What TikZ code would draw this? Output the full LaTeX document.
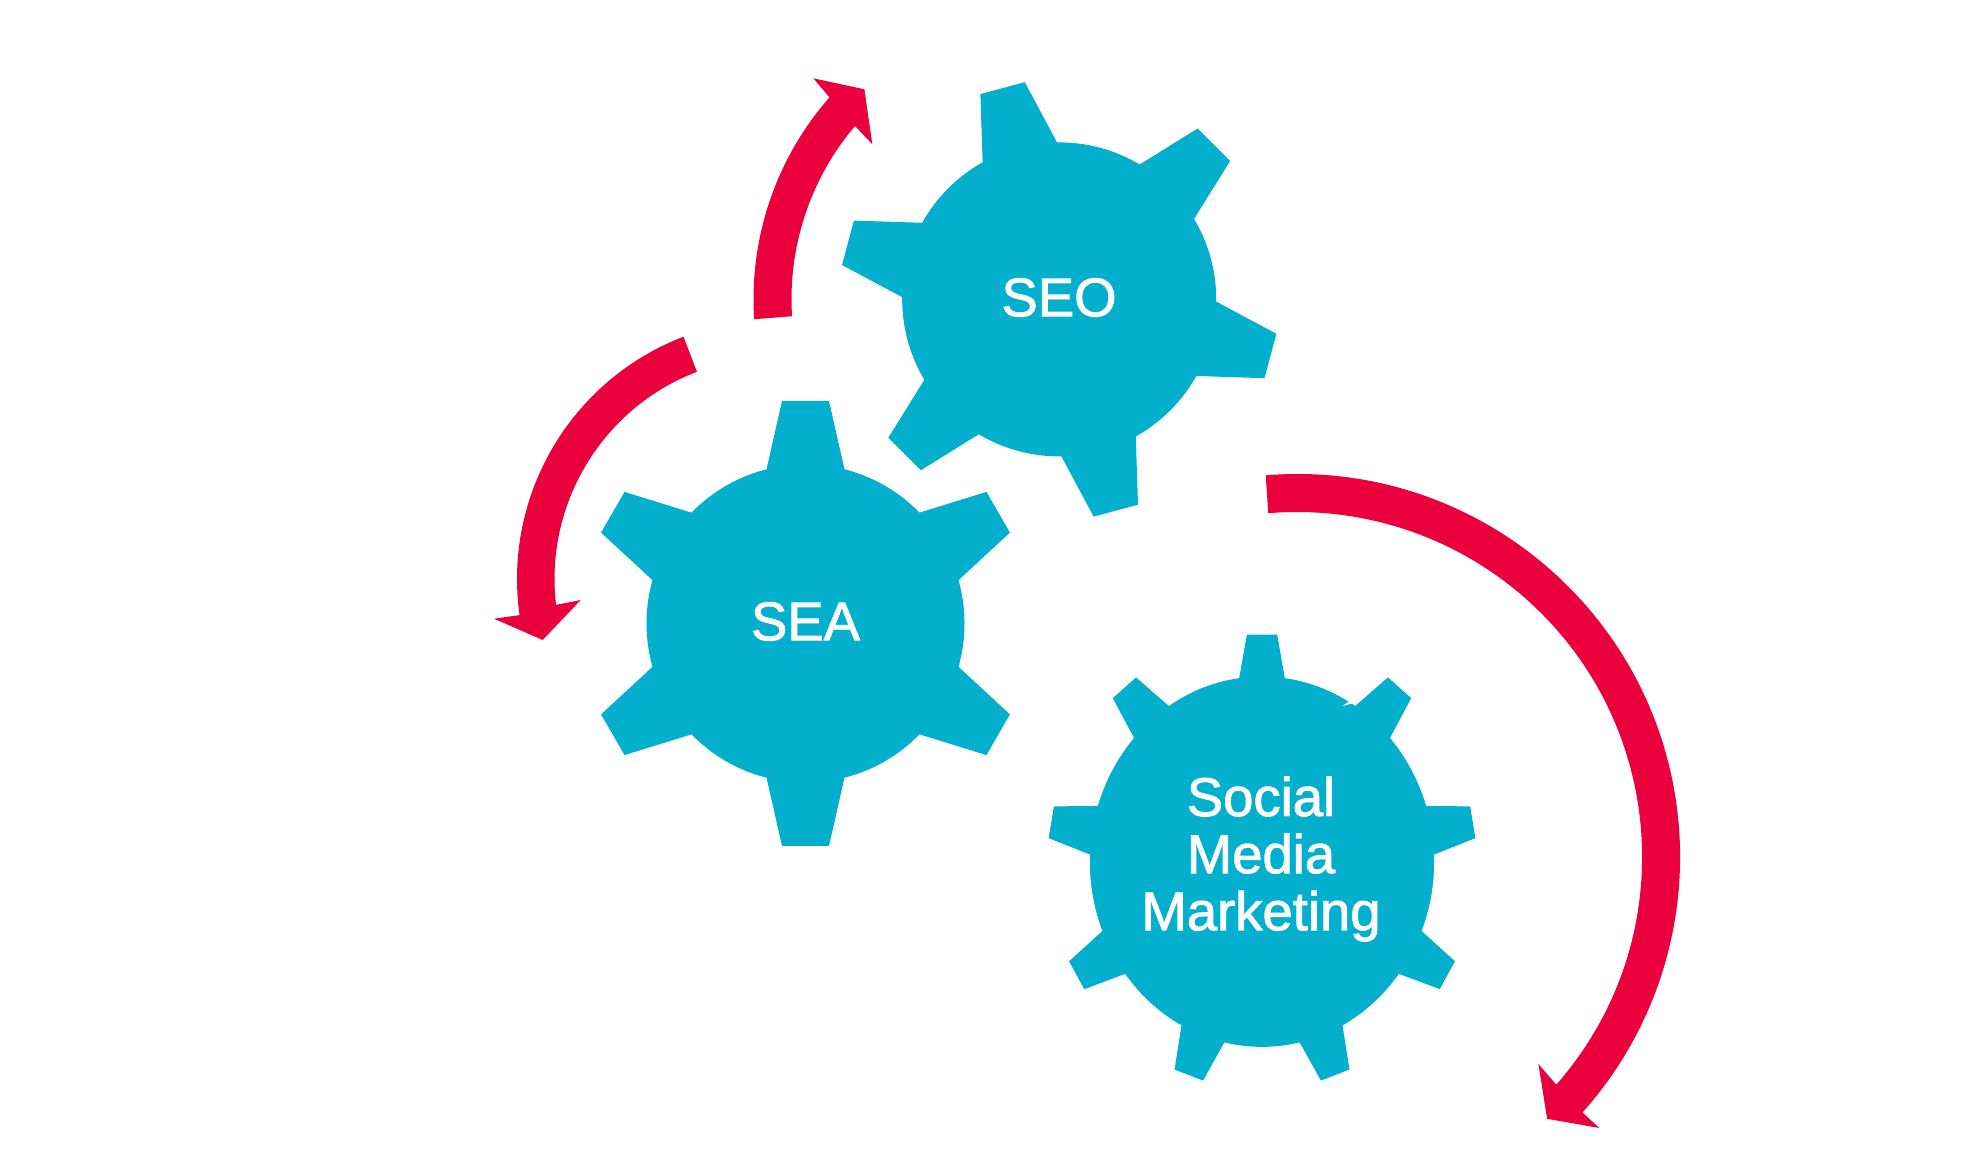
\documentclass[tikz,border=0pt]{standalone}
\usepackage{fontspec}
\setmainfont{Liberation Sans}
\newfontfamily\gearfont{Liberation Sans}[FakeBold=1.6]
\usetikzlibrary{calc}
\definecolor{gearblue}{RGB}{2,176,206}
\definecolor{arrowred}{RGB}{233,0,60}
\tikzset{
    gearlabel/.style={text=white,align=center,inner sep=0pt,font=\gearfont\fontsize{15.5}{16.25}\selectfont},
    turnarrow/.style={fill=arrowred}
}
% teeth, first tooth angle, body radius, tip radius, half tip width, half base width
\newcommand{\gearwheel}[6]{
    \pgfmathsetmacro{\basex}{sqrt(#3*#3-#6*#6)}
    \fill[gearblue] (0,0) circle (#3);
    \foreach \k in {1,...,#1} {
        \fill[gearblue,rotate={#2+360/#1*\k}] (0,0) -- (\basex,#6) -- (#4,#5) -- (#4,-#5) -- (\basex,-#6) -- cycle;
    }
}
\begin{document}
\begin{tikzpicture}
    \useasboundingbox (0,0) rectangle (19.8,11.55);
    % Gears ====================================================
    \begin{scope}[shift={(10.592,8.556)}]
        \gearwheel{6}{45}{1.57}{2.187}{.23}{.385}
    \end{scope}
    \begin{scope}[shift={(8.055,5.315)}]
        \gearwheel{6}{30}{1.59}{2.225}{.235}{.39}
    \end{scope}
    \begin{scope}[shift={(12.62,2.933)},yscale=1.061]
        \gearwheel{9}{10}{1.72}{2.14}{.152}{.233}
        \fill[gearblue] (0,0) ellipse[x radius=1.72,y radius=1.745];
    \end{scope}
    \fill[white] (13.483,4.533) -- (13.427,4.49) -- (13.583,4.533) -- (13.54,4.56) -- cycle; % nick at the tooth
    \node[gearlabel] (SEO) at (10.59,8.575) {SEO};
    \node[gearlabel] (SEA) at (8.055,5.335) {SEA};
    \node[gearlabel] (SMM) at (12.61,2.96) {Social\\Media\\Marketing};
    % Arrows ===================================================
    \coordinate (C1) at (10.59,8.56);
    \coordinate (C2) at (7.765,5.76);
    \coordinate (C3) at (12.971,2.98);
    \fill[turnarrow] ($(C1)+(183.8:3.055)$) arc[start angle=183.8,end angle=138.7,radius=3.055]
        -- (8.132,10.767) -- (8.644,10.657) -- (8.723,10.107)
        -- ($(C1)+(139.7:2.675)$) arc[start angle=139.7,end angle=183.7,radius=2.675] -- cycle;
    \fill[turnarrow] ($(C2)+(111:2.595)$) arc[start angle=111,end angle=188,radius=2.595]
        -- (4.94,5.363) -- (5.427,5.15) -- (5.807,5.55)
        -- ($(C2)+(186.7:2.22)$) arc[start angle=186.7,end angle=111,radius=2.22] -- cycle;
    \fill[turnarrow] ($(C3)+(94.7:3.83)$) arc[start angle=94.7,end angle=-41.85,radius=3.83]
        -- (15.994,0.27) -- (15.471,0.362) -- (15.384,0.91)
        -- ($(C3)+(-41.3:3.45)$) arc[start angle=-41.3,end angle=94.8,radius=3.45] -- cycle;
\end{tikzpicture}
\end{document}
